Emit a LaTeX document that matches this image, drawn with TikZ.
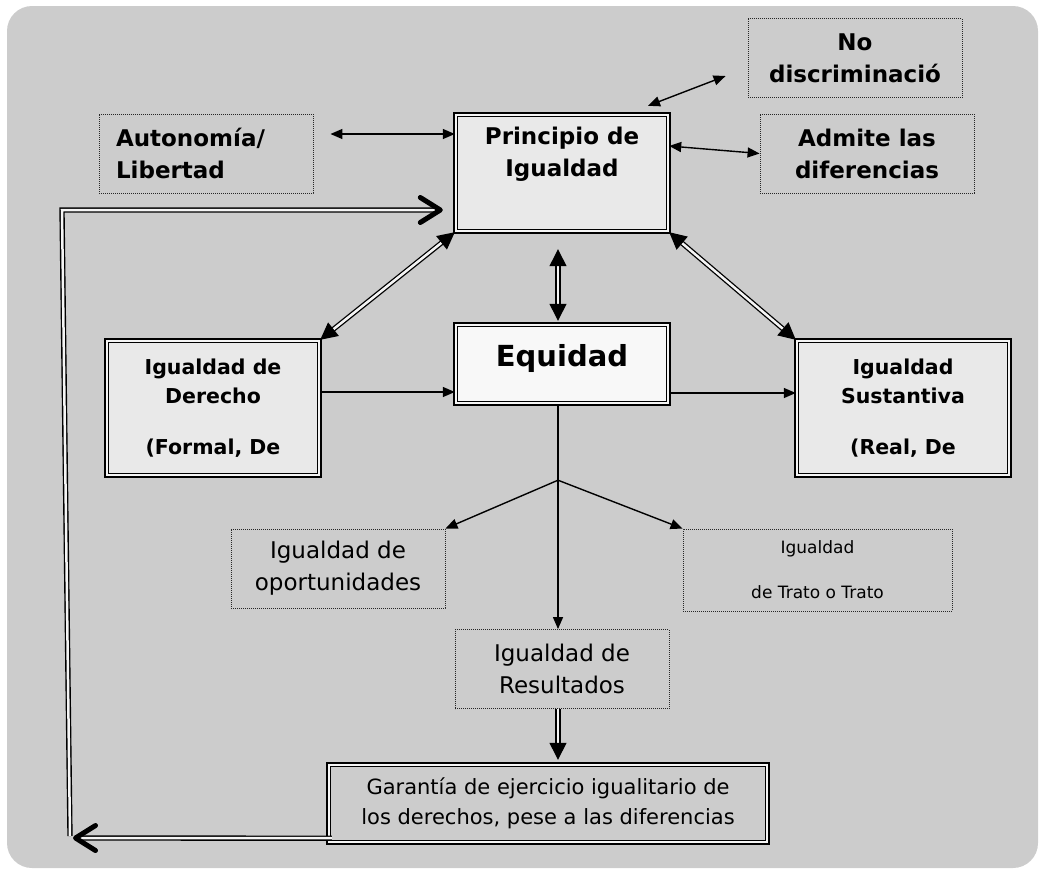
\documentclass[tikz,border=0pt]{standalone}
\usepackage{fontspec}
\setmainfont{DejaVu Sans}
\usetikzlibrary{arrows.meta, positioning, calc}
\definecolor{fondo}{HTML}{CCCCCC}
\definecolor{cajaclara}{HTML}{E9E9E9}
\definecolor{cajablanca}{HTML}{F8F8F8}
\tikzset{
  dotbox/.style={draw=black!85, line width=0.9pt, dash pattern=on 0.9pt off 1.1pt,
    align=center, minimum width=214pt, minimum height=79pt, inner sep=0pt},
  dblbox/.style={draw=black, line width=1.8pt, double=gray!8, double distance=1.8pt,
    fill=cajaclara, align=center, inner sep=0pt},
  txtgrande/.style={font=\fontsize{23}{32}\selectfont\bfseries},
  txtmedio/.style={font=\fontsize{20.5}{29}\selectfont\bfseries},
  txtnormal/.style={font=\fontsize{23}{32}\selectfont},
  fina/.style={line width=1.4pt, >={Triangle[length=12pt,width=10pt]}},
  doble/.style={line width=1.3pt, double=gray!8, double distance=2.5pt,
    >={Triangle[length=17pt,width=17pt]}},
  lazo/.style={line width=1.4pt, double=gray!8, double distance=2.5pt,
    >={Straight Barb[length=20pt,width=25pt,line width=5pt,round]}}
}
\begin{document}
\begin{tikzpicture}[x=1pt,y=-1pt]
    \useasboundingbox (0,0) rectangle (1040,873);
    %fondo
    \fill[fondo, rounded corners=25pt] (7,6) rectangle (1038,868);
    %cajas de arriba
    \node[dotbox, txtgrande] (nodisc) at (855,58) {No\\discriminació};
    \node[dotbox, txtgrande] (admite) at (867,153.5) {Admite las\\diferencias};
    \node[dotbox, txtgrande, align=left, text width=180pt, inner xsep=17pt] (auton) at (206,153.5) {Autonomía/\\Libertad};
    \node[dblbox, txtgrande, minimum width=212.6pt, minimum height=116.6pt] (princ) at (562,173) {Principio de\\Igualdad\\\strut};
    %cajas del medio
    \node[dblbox, txtmedio, minimum width=212.6pt, minimum height=134.6pt] (derecho) at (213,408) {Igualdad de\\Derecho\\[22pt](Formal, De};
    \node[dblbox, txtmedio, minimum width=212.6pt, minimum height=134.6pt] (sustant) at (903,408) {Igualdad\\Sustantiva\\[22pt](Real, De};
    \node[dblbox, fill=cajablanca, font=\fontsize{29}{35}\selectfont\bfseries, minimum width=212.6pt, minimum height=78.6pt] (equidad) at (562,364) {\raisebox{-2.5pt}[0pt][0pt]{Equidad}};
    %cajas de abajo
    \node[dotbox, txtnormal] (oport) at (338,568.5) {Igualdad de\\oportunidades};
    \node[dotbox, font=\fontsize{17}{21}\selectfont, minimum width=269pt, minimum height=82pt] (trato) at (817.5,570) {Igualdad\\[24pt]de Trato o Trato};
    \node[dotbox, txtnormal] (result) at (562,669) {Igualdad de\\Resultados};
    \node[dblbox, fill=fondo, font=\fontsize{21}{30}\selectfont, minimum width=438.6pt, minimum height=77.6pt] (garant) at (548,803.5) {Garantía de ejercicio igualitario de\\los derechos, pese a las diferencias};
    %flechas finas de arriba
    \coordinate (autA) at ($(auton.east)+(17,-19.5)$);
    \draw[fina, <->] (autA) -- (autA -| princ.west);
    \draw[fina, <->] ($(princ.north)+(86,-8)$) -- ($(nodisc.west)+(-22,18)$);
    \draw[fina, <->] ($(princ.east)+(0,-27)$) -- (admite.west);
    %flechas dobles
    \draw[doble, <->] (princ.south west) -- (derecho.north east);
    \draw[doble, <->] ($(princ.south)+(-4,17)$) -- ($(equidad.north)+(-4,-3)$);
    \draw[doble, <->] (princ.south east) -- (sustant.north west);
    %flechas horizontales
    \coordinate (derA) at ($(derecho.east)+(0,-16)$);
    \draw[fina, ->] (derA) -- (derA -| equidad.west);
    \coordinate (eqA) at ($(equidad.east)+(0,29)$);
    \draw[fina, ->] (eqA) -- (eqA -| sustant.west);
    %bifurcacion
    \coordinate (bifur) at ($(equidad.south)+(-4,76)$);
    \draw[fina] ($(equidad.south)+(-4,0)$) -- (bifur);
    \draw[fina, ->] (bifur) -- (oport.north east);
    \draw[fina, ->] (bifur) -- (trato.north west);
    \draw[fina, ->] (bifur) -- (bifur |- result.north);
    \draw[doble, ->] (result.south -| bifur) -- ($(garant.north -| bifur)+(0,-4)$);
    %lazo de vuelta
    \coordinate (lazoabajo) at (73,838);
    \coordinate (lazoesq) at (70,836);
    \coordinate (lazoarriba) at (62,210);
    \draw[lazo, ->] ($(garant.south west)+(4,-5)$) -- (lazoabajo);
    \draw[lazo, ->] (lazoesq) -- (lazoarriba) -- ($(princ.west)+(-12,37)$);
\end{tikzpicture}
\end{document}
